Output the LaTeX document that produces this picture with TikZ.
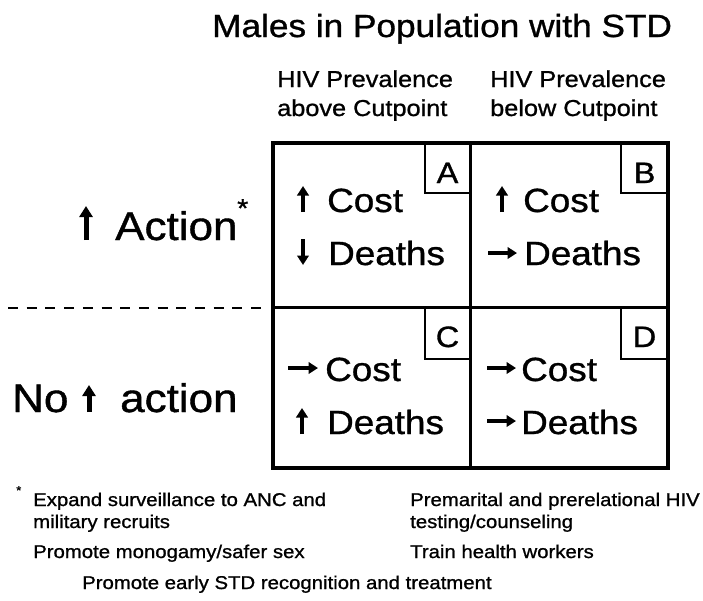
\documentclass[tikz,border=0pt]{standalone}
\usepackage{fontspec}
\setmainfont{Liberation Sans}[FakeStretch=1.1,FakeBold=1]
\usetikzlibrary{arrows.meta}
\newcommand\fsz[1]{\fontsize{#1}{#1}\selectfont}
\tikzset{
  txt/.style={inner sep=0pt, anchor=base west},
  celltxt/.style={txt, font=\fsz{33.5}},
  lbltxt/.style={txt, font=\fsz{40}},
  hdrtxt/.style={txt, font=\fsz{23}},
  foottxt/.style={txt, font=\fsz{18.5}},
  lettertxt/.style={inner sep=0pt, anchor=base, font=\fsz{29.5}},
  garr/.style={line width=4.2pt, -{Triangle[width=11.5pt,length=9.5pt]}},
  bigarr/.style={line width=5pt, -{Triangle[width=13pt,length=11pt]}},
  frame/.style={line width=4pt},
  divider/.style={line width=3pt},
  letterbox/.style={line width=2pt},
}
\begin{document}
\begin{tikzpicture}[x=1pt,y=-1pt]
\useasboundingbox (0,0) rectangle (703,600);
\fill[white] (0,0) rectangle (703,600);

% title and headers
\node[txt, font=\fsz{32}] (title) at (212,37) {Males in Population with STD};
\node[hdrtxt] (h1a) at (277,87) {HIV Prevalence};
\node[hdrtxt] (h1b) at (277,116) {above Cutpoint};
\node[hdrtxt] (h2a) at (490,87) {HIV Prevalence};
\node[hdrtxt] (h2b) at (490,116) {below Cutpoint};

% grid
\draw[divider] (470,143) -- (470,468);
\draw[divider] (273,307) -- (668,307);
\draw[frame] (273,143) rectangle (668,468);

% letter boxes
\draw[letterbox] (425,143) rectangle (470,193);
\draw[letterbox] (621,143) rectangle (668,193);
\draw[letterbox] (425,307) rectangle (470,359);
\draw[letterbox] (621,307) rectangle (668,359);
\node[lettertxt] (lA) at (447.5,183) {A};
\node[lettertxt] (lB) at (644.5,183) {B};
\node[lettertxt] (lC) at (447.5,347) {C};
\node[lettertxt] (lD) at (644.5,347) {D};

% cell A
\draw[garr] (303,212) -- (303,186);
\node[celltxt] (aCost) at (327,212) {Cost};
\draw[garr] (303,239) -- (303,265);
\node[celltxt] (aDeaths) at (328,265) {Deaths};
% cell B
\draw[garr] (502,212) -- (502,186);
\node[celltxt] (bCost) at (523,212) {Cost};
\draw[garr] (488,253) -- (517,253);
\node[celltxt] (bDeaths) at (524,265) {Deaths};
% cell C
\draw[garr] (288,368) -- (318,368);
\node[celltxt] (cCost) at (325,381) {Cost};
\draw[garr] (302,434) -- (302,408);
\node[celltxt] (cDeaths) at (327,434) {Deaths};
% cell D
\draw[garr] (487,368) -- (516,368);
\node[celltxt] (dCost) at (521,381) {Cost};
\draw[garr] (487,421) -- (516,421);
\node[celltxt] (dDeaths) at (521,434) {Deaths};

% row labels
\draw[bigarr] (86,240) -- (86,206);
\node[lbltxt] (act) at (115,240) {Action};
\node[inner sep=0pt, anchor=north west, font=\fsz{26}] (star) at (237,199) {*};
\coordinate (dl) at (8,308);
\coordinate (dr) at (265,308);
\draw[line width=2pt, dash pattern=on 10pt off 8.7pt] (dl) -- (dr);
\node[lbltxt] (no) at (12,412) {No};
\draw[bigarr] (89,412) -- (89,385);
\node[lbltxt] (noact) at (120,412) {action};

% footnotes
\node[inner sep=0pt, anchor=north west, font=\fsz{12}] (fstar) at (16,486) {*};
\node[foottxt] (f1) at (33,506) {Expand surveillance to ANC and};
\node[foottxt] (f2) at (33,528) {military recruits};
\node[foottxt] (f3) at (33,558) {Promote monogamy/safer sex};
\node[foottxt] (f4) at (82,589) {Promote early STD recognition and treatment};
\node[foottxt] (f5) at (410,506) {Premarital and prerelational HIV};
\node[foottxt] (f6) at (410,528) {testing/counseling};
\node[foottxt] (f7) at (410,558) {Train health workers};
\end{tikzpicture}
\end{document}
